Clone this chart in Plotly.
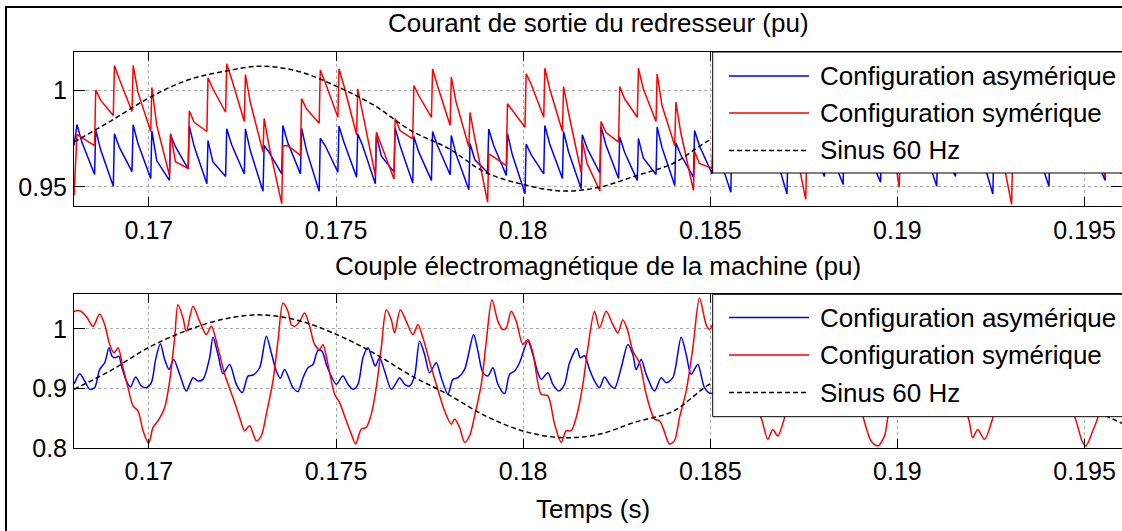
import plotly.graph_objects as go

# ---------------------------------------------------------------- data
# Top panel: rectifier output current, sampled at each commutation
# (peak, knee of the decay, bottom just before the next rise).
TOP_T = [
    0.16800,
    0.16808, 0.16821, 0.16855,  0.16858, 0.16871, 0.16905,  0.16908, 0.16921, 0.16955,
    0.16958, 0.16971, 0.17005,  0.17008, 0.17021, 0.17055,  0.17058, 0.17071, 0.17105,
    0.17108, 0.17121, 0.17155,  0.17158, 0.17171, 0.17205,  0.17208, 0.17221, 0.17255,
    0.17258, 0.17271, 0.17305,  0.17308, 0.17321, 0.17355,  0.17358, 0.17371, 0.17405,
    0.17408, 0.17421, 0.17455,  0.17458, 0.17471, 0.17505,  0.17508, 0.17521, 0.17555,
    0.17558, 0.17571, 0.17605,  0.17608, 0.17621, 0.17655,  0.17658, 0.17671, 0.17705,
    0.17708, 0.17721, 0.17755,  0.17758, 0.17771, 0.17805,  0.17808, 0.17821, 0.17855,
    0.17858, 0.17871, 0.17905,  0.17908, 0.17921, 0.17955,  0.17958, 0.17971, 0.18005,
    0.18008, 0.18021, 0.18055,  0.18058, 0.18071, 0.18105,  0.18108, 0.18121, 0.18155,
    0.18158, 0.18171, 0.18205,  0.18208, 0.18221, 0.18255,  0.18258, 0.18271, 0.18305,
    0.18308, 0.18321, 0.18355,  0.18358, 0.18371, 0.18405,  0.18408, 0.18421, 0.18455,
    0.18458, 0.18471, 0.18505,  0.18508, 0.18521, 0.18555,  0.18558, 0.18571, 0.18605,
    0.18608, 0.18621, 0.18655,  0.18658, 0.18671, 0.18705,  0.18708, 0.18721, 0.18755,
    0.18758, 0.18771, 0.18805,  0.18808, 0.18821, 0.18855,  0.18858, 0.18871, 0.18905,
    0.18908, 0.18921, 0.18955,  0.18958, 0.18971, 0.19005,  0.19008, 0.19021, 0.19055,
    0.19058, 0.19071, 0.19105,  0.19108, 0.19121, 0.19155,  0.19158, 0.19171, 0.19205,
    0.19208, 0.19221, 0.19255,  0.19258, 0.19271, 0.19305,  0.19308, 0.19321, 0.19355,
    0.19358, 0.19371, 0.19405,  0.19408, 0.19421, 0.19455,  0.19458, 0.19471, 0.19505,
    0.19508, 0.19521, 0.19555,  0.19558, 0.19571, 0.19605,
]

TOP_ASYM = [
    0.9714,
    0.9823, 0.9732, 0.9564,  0.9796, 0.9693, 0.9502,  0.9775, 0.9706, 0.9579,
    0.9822, 0.9724, 0.9543,  0.9790, 0.9636, 0.9533,  0.9770, 0.9708, 0.9593,
    0.9815, 0.9710, 0.9516,  0.9740, 0.9630, 0.9553,  0.9801, 0.9719, 0.9567,
    0.9801, 0.9688, 0.9477,  0.9714, 0.9680, 0.9567,  0.9818, 0.9730, 0.9567,
    0.9804, 0.9690, 0.9477,  0.9752, 0.9714, 0.9576,  0.9815, 0.9732, 0.9550,
    0.9775, 0.9714, 0.9516,  0.9766, 0.9660, 0.9576,  0.9805, 0.9714, 0.9519,
    0.9761, 0.9681, 0.9533,  0.9787, 0.9714, 0.9562,  0.9766, 0.9667, 0.9484,
    0.9725, 0.9640, 0.9574,  0.9800, 0.9716, 0.9559,  0.9777, 0.9667, 0.9464,
    0.9722, 0.9668, 0.9567,  0.9818, 0.9722, 0.9543,  0.9787, 0.9683, 0.9490,
    0.9770, 0.9700, 0.9571,  0.9813, 0.9718, 0.9543,  0.9758, 0.9679, 0.9533,
    0.9751, 0.9650, 0.9564,  0.9810, 0.9704, 0.9507,  0.9728, 0.9666, 0.9550,
    0.9792, 0.9713, 0.9567,  0.9780, 0.9672, 0.9472,  0.9800, 0.9723, 0.9580,
    0.9760, 0.9697, 0.9580,  0.9810, 0.9688, 0.9462,  0.9740, 0.9688, 0.9590,
    0.9800, 0.9714, 0.9553,  0.9770, 0.9680, 0.9512,  0.9810, 0.9730, 0.9580,
    0.9760, 0.9677, 0.9524,  0.9790, 0.9716, 0.9580,  0.9730, 0.9681, 0.9590,
    0.9815, 0.9705, 0.9502,  0.9770, 0.9694, 0.9553,  0.9800, 0.9723, 0.9580,
    0.9810, 0.9688, 0.9462,  0.9740, 0.9688, 0.9590,  0.9790, 0.9717, 0.9580,
    0.9800, 0.9696, 0.9502,  0.9760, 0.9698, 0.9580,  0.9810, 0.9728, 0.9575,
    0.9770, 0.9687, 0.9533,  0.9800, 0.9719, 0.9570,
]

TOP_SYM = [
    0.9455,
    0.9772, 0.9755, 0.9714,  1.0003, 0.9950, 0.9870,  1.0130, 1.0060, 0.9891,
    1.0130, 0.9990, 0.9787,  1.0016, 0.9820, 0.9559,  0.9777, 0.9630, 0.9595,
    0.9894, 0.9835, 0.9787,  1.0066, 1.0009, 0.9887,  1.0139, 1.0061, 0.9839,
    1.0083, 0.9939, 0.9680,  0.9855, 0.9714, 0.9412,  0.9712, 0.9714, 0.9663,
    0.9958, 0.9905, 0.9830,  1.0106, 1.0043, 0.9861,  1.0113, 1.0026, 0.9770,
    1.0008, 0.9887, 0.9559,  0.9783, 0.9714, 0.9540,  0.9855, 0.9792, 0.9749,
    1.0026, 0.9974, 0.9861,  1.0112, 1.0026, 0.9818,  1.0069, 0.9939, 0.9706,
    0.9886, 0.9750, 0.9420,  0.9671, 0.9655, 0.9610,  0.9931, 0.9896, 0.9809,
    1.0087, 1.0035, 0.9861,  1.0116, 1.0009, 0.9787,  1.0020, 0.9887, 0.9574,
    0.9740, 0.9620, 0.9478,  0.9839, 0.9783, 0.9732,  1.0021, 0.9957, 0.9861,
    1.0116, 1.0009, 0.9839,  1.0087, 0.9922, 0.9714,  0.9939, 0.9783, 0.9481,
    0.9683, 0.9621, 0.9595,  0.9850, 0.9790, 0.9750,  1.0030, 0.9960, 0.9860,
    1.0120, 1.0030, 0.9830,  1.0080, 0.9940, 0.9700,  0.9920, 0.9760, 0.9434,
    0.9690, 0.9630, 0.9600,  0.9880, 0.9830, 0.9780,  1.0040, 0.9980, 0.9860,
    1.0120, 1.0020, 0.9820,  1.0060, 0.9900, 0.9498,  0.9750, 0.9660, 0.9620,
    0.9900, 0.9840, 0.9760,  1.0060, 0.9990, 0.9870,  1.0130, 1.0030, 0.9820,
    1.0070, 0.9930, 0.9700,  0.9900, 0.9750, 0.9408,  0.9680, 0.9620, 0.9610,
    0.9870, 0.9820, 0.9770,  1.0040, 0.9980, 0.9860,  1.0120, 1.0020, 0.9820,
    1.0070, 0.9920, 0.9550,  0.9720, 0.9620, 0.9570,
]

# 60 Hz reference, sampled every millisecond
SINE_T = [0.168, 0.169, 0.170, 0.171, 0.172, 0.173, 0.174, 0.175, 0.176, 0.177,
          0.178, 0.179, 0.180, 0.181, 0.182, 0.183, 0.184, 0.185, 0.186, 0.187,
          0.188, 0.189, 0.190, 0.191, 0.192, 0.193, 0.194, 0.195, 0.196]
TOP_SINE = [0.9732, 0.9844, 0.9961, 1.0052, 1.0099, 1.0126, 1.0099, 1.0023, 0.9925, 0.9792,
            0.9699, 0.9574, 0.9512, 0.9478, 0.9496, 0.9556, 0.9621, 0.9745, 0.9830, 0.9950,
            1.0050, 1.0110, 1.0125, 1.0080, 0.9990, 0.9880, 0.9770, 0.9660, 0.9570]
BOT_SINE = [0.899, 0.931, 0.969, 0.997, 1.0165, 1.0235, 1.014, 0.991, 0.960, 0.922,
            0.890, 0.854, 0.829, 0.818, 0.823, 0.844, 0.862, 0.908, 0.935, 0.970,
            1.000, 1.020, 1.022, 1.010, 0.985, 0.950, 0.910, 0.872, 0.842]

# Bottom panel: electromagnetic torque
BOT_ASYM_T = [
    0.168000, 0.168019, 0.168152, 0.168286, 0.168419, 0.168553, 0.168686, 0.168820,
    0.168936, 0.169016, 0.169105, 0.169194, 0.169283, 0.169399, 0.169505, 0.169648,
    0.169799, 0.169933, 0.170066, 0.170182, 0.170307, 0.170422, 0.170538, 0.170663,
    0.170823, 0.171001, 0.171179, 0.171313, 0.171446, 0.171624, 0.171713, 0.171847,
    0.171980, 0.172158, 0.172337, 0.172497, 0.172648, 0.172782, 0.172960, 0.173138,
    0.173271, 0.173405, 0.173512, 0.173627, 0.173851, 0.173984, 0.174118, 0.174251,
    0.174385, 0.174518, 0.174625, 0.174741, 0.174874, 0.175008, 0.175186, 0.175320,
    0.175453, 0.175587, 0.175720, 0.175854, 0.175961, 0.176050, 0.176165, 0.176299,
    0.176477, 0.176611, 0.176700, 0.176833, 0.176967, 0.177100, 0.177234, 0.177367,
    0.177501, 0.177679, 0.177812, 0.177990, 0.178124, 0.178258, 0.178436, 0.178676,
    0.178792, 0.178925, 0.179059, 0.179192, 0.179326, 0.179504, 0.179637, 0.179771,
    0.179904, 0.180127, 0.180260, 0.180394, 0.180483, 0.180661, 0.180794, 0.180955,
    0.181106, 0.181240, 0.181435, 0.181525, 0.181640, 0.181774, 0.181907, 0.182041,
    0.182174, 0.182308, 0.182442, 0.182620, 0.182798, 0.182931, 0.183020, 0.183154,
    0.183287, 0.183510, 0.183688, 0.183822, 0.184000, 0.184222, 0.184356, 0.184489,
    0.184667, 0.184845, 0.185023, 0.185250, 0.185450, 0.185600, 0.185750, 0.185900,
    0.186050, 0.186300, 0.186450, 0.186600, 0.186850, 0.187000, 0.187150, 0.187300,
    0.187500, 0.187700, 0.187900, 0.188150, 0.188400, 0.188550, 0.188700, 0.188900,
    0.189100, 0.189300, 0.189500, 0.189800, 0.189950, 0.190100, 0.190300, 0.190500,
    0.190700, 0.190900, 0.191200, 0.191350, 0.191500, 0.191700, 0.191900, 0.192100,
    0.192400, 0.192600, 0.192750, 0.192900, 0.193100, 0.193300, 0.193500, 0.193700,
    0.194000, 0.194150, 0.194300, 0.194500, 0.194700, 0.194900, 0.195100, 0.195400,
    0.195550, 0.195700, 0.195900, 0.196100,
]
BOT_ASYM = [
    0.9080, 0.9100, 0.9250, 0.9127, 0.8989, 0.9017, 0.9322, 0.9433,
    0.9683, 0.9544, 0.9517, 0.9544, 0.9350, 0.9128, 0.9027, 0.9194,
    0.9044, 0.9016, 0.9100, 0.9489, 0.9750, 0.9489, 0.9322, 0.9489,
    0.9239, 0.8961, 0.9183, 0.9128, 0.9155, 0.9517, 0.9860, 0.9572,
    0.9250, 0.9405, 0.9072, 0.8933, 0.9210, 0.9228, 0.9350, 0.9877,
    0.9600, 0.9294, 0.9172, 0.9322, 0.9016, 0.8950, 0.9183, 0.9350,
    0.9405, 0.9639, 0.9628, 0.9405, 0.9210, 0.9072, 0.9210, 0.9072,
    0.8989, 0.9072, 0.9517, 0.9683, 0.9517, 0.9377, 0.9517, 0.9294,
    0.8989, 0.9100, 0.9183, 0.9072, 0.9044, 0.9217, 0.9794, 0.9572,
    0.9267, 0.9433, 0.9183, 0.8905, 0.9155, 0.9183, 0.9322, 0.9905,
    0.9628, 0.9267, 0.9210, 0.9350, 0.9072, 0.8917, 0.9239, 0.9294,
    0.9433, 0.9794, 0.9572, 0.9267, 0.9155, 0.9267, 0.9072, 0.8961,
    0.9072, 0.9433, 0.9672, 0.9517, 0.9550, 0.9322, 0.9128, 0.9017,
    0.9194, 0.9072, 0.9006, 0.9350, 0.9739, 0.9572, 0.9322, 0.9489,
    0.9239, 0.8961, 0.9183, 0.9100, 0.9183, 0.9861, 0.9572, 0.9239,
    0.9405, 0.9017, 0.8917, 0.9050, 0.9350, 0.9750, 0.9550, 0.9250,
    0.9400, 0.8980, 0.9180, 0.9120, 0.9500, 0.9700, 0.9520, 0.9300,
    0.9050, 0.9200, 0.9000, 0.9300, 0.9850, 0.9550, 0.9250, 0.9420,
    0.8950, 0.9150, 0.9100, 0.9800, 0.9550, 0.9250, 0.9400, 0.9000,
    0.9180, 0.9050, 0.9680, 0.9520, 0.9300, 0.9050, 0.9200, 0.9000,
    0.9400, 0.9750, 0.9550, 0.9250, 0.9400, 0.8950, 0.9150, 0.9100,
    0.9850, 0.9550, 0.9250, 0.9400, 0.8950, 0.9180, 0.9050, 0.9700,
    0.9520, 0.9300, 0.9050, 0.9150,
]

BOT_SYM_T = [
    0.168000, 0.168019, 0.168152, 0.168330, 0.168508, 0.168686, 0.168820, 0.168953,
    0.169069, 0.169176, 0.169309, 0.169443, 0.169577, 0.169710, 0.169844, 0.169995,
    0.170111, 0.170244, 0.170422, 0.170556, 0.170689, 0.170778, 0.170912, 0.171001,
    0.171179, 0.171357, 0.171535, 0.171669, 0.171847, 0.172025, 0.172247, 0.172426,
    0.172559, 0.172693, 0.172871, 0.173004, 0.173138, 0.173316, 0.173449, 0.173583,
    0.173717, 0.173806, 0.173895, 0.174029, 0.174162, 0.174296, 0.174429, 0.174563,
    0.174652, 0.174785, 0.174963, 0.175097, 0.175275, 0.175409, 0.175524, 0.175676,
    0.175809, 0.175943, 0.176076, 0.176210, 0.176343, 0.176477, 0.176566, 0.176717,
    0.176878, 0.177056, 0.177189, 0.177323, 0.177545, 0.177679, 0.177901, 0.178079,
    0.178169, 0.178302, 0.178436, 0.178570, 0.178703, 0.178881, 0.179015, 0.179166,
    0.179326, 0.179459, 0.179548, 0.179682, 0.179815, 0.179993, 0.180127, 0.180260,
    0.180483, 0.180661, 0.180839, 0.181017, 0.181151, 0.181284, 0.181418, 0.181596,
    0.181729, 0.181907, 0.182041, 0.182219, 0.182397, 0.182531, 0.182664, 0.182798,
    0.182931, 0.183109, 0.183287, 0.183510, 0.183643, 0.183732, 0.183911, 0.184044,
    0.184178, 0.184356, 0.184534, 0.184712, 0.184889, 0.184979, 0.185150, 0.185300,
    0.185450, 0.185700, 0.186000, 0.186250, 0.186359, 0.186537, 0.186670, 0.186804,
    0.186982, 0.187100, 0.187300, 0.187500, 0.187650, 0.187800, 0.187950, 0.188100,
    0.188300, 0.188450, 0.188600, 0.188800, 0.189074, 0.189297, 0.189475, 0.189653,
    0.189742, 0.189900, 0.190100, 0.190250, 0.190400, 0.190600, 0.190800, 0.190950,
    0.191100, 0.191300, 0.191600, 0.191879, 0.192012, 0.192146, 0.192324, 0.192547,
    0.192700, 0.192900, 0.193050, 0.193200, 0.193350, 0.193500, 0.193700, 0.193850,
    0.194000, 0.194300, 0.194728, 0.194950, 0.195039, 0.195217, 0.195350, 0.195500,
    0.195700, 0.195900, 0.196100,
]
BOT_SYM = [
    1.0280, 1.0294, 1.0305, 1.0210, 1.0044, 1.0250, 1.0072, 0.9739,
    0.9600, 0.9683, 0.9350, 0.9017, 0.8710, 0.8628, 0.8294, 0.8083,
    0.8350, 0.8460, 0.8683, 0.9128, 0.9850, 1.0405, 1.0183, 0.9960,
    1.0378, 1.0127, 0.9906, 1.0044, 0.9683, 0.9239, 0.8850, 0.8516,
    0.8294, 0.8378, 0.8128, 0.8210, 0.8572, 0.9128, 0.9794, 1.0433,
    1.0294, 1.0072, 1.0044, 1.0127, 1.0267, 1.0044, 0.9739, 0.9655,
    0.9739, 0.9406, 0.8905, 0.8766, 0.8460, 0.8239, 0.8072, 0.8322,
    0.8350, 0.8572, 0.9017, 0.9683, 1.0322, 1.0155, 0.9933, 1.0322,
    1.0127, 0.9905, 1.0072, 0.9850, 0.9350, 0.9072, 0.8628, 0.8405,
    0.8489, 0.8350, 0.8100, 0.8211, 0.8544, 0.9072, 0.9794, 1.0489,
    1.0127, 0.9989, 1.0017, 1.0294, 1.0127, 0.9739, 0.9822, 0.9600,
    0.8905, 0.8878, 0.8405, 0.8100, 0.8294, 0.8294, 0.8517, 0.9072,
    0.9683, 1.0294, 1.0017, 1.0294, 1.0072, 0.9933, 1.0155, 0.9961,
    0.9628, 0.9433, 0.8905, 0.8489, 0.8461, 0.8350, 0.8072, 0.8128,
    0.8517, 0.8961, 0.9683, 1.0516, 1.0072, 0.9989, 1.0150, 0.9900,
    0.9750, 0.9300, 0.8800, 0.8600, 0.8510, 0.8150, 0.8317, 0.8206,
    0.8510, 0.8800, 0.9600, 1.0350, 1.0120, 0.9950, 1.0330, 1.0100,
    0.9900, 1.0030, 0.9700, 0.9100, 0.8540, 0.8122, 0.8039, 0.8206,
    0.8510, 0.9000, 0.9750, 1.0450, 1.0100, 1.0250, 1.0000, 0.9700,
    0.9550, 0.9200, 0.8750, 0.8540, 0.8178, 0.8317, 0.8150, 0.8510,
    0.9000, 0.9700, 1.0300, 1.0000, 1.0300, 1.0050, 0.9900, 1.0050,
    0.9650, 0.9000, 0.8540, 0.8094, 0.8039, 0.8289, 0.8510, 0.9000,
    0.9700, 1.0450, 1.0100,
]

X_TICKS = [0.17, 0.175, 0.18, 0.185, 0.19, 0.195]
X_TICK_TEXT = ["0.17", "0.175", "0.18", "0.185", "0.19", "0.195"]
TOP_Y_TICKS = [0.95, 1.0]
TOP_Y_TEXT = ["0.95", "1"]
BOT_Y_TICKS = [0.8, 0.9, 1.0]
BOT_Y_TEXT = ["0.8", "0.9", "1"]
SERIES = ["Configuration asymérique", "Configuration symérique", "Sinus 60 Hz"]
TITLE_TOP = "Courant de sortie du redresseur (pu)"
TITLE_BOT = "Couple électromagnétique de la machine (pu)"
X_LABEL = "Temps (s)"

# ---------------------------------------------------------------- layout
W, H = 1122, 531
FONT = "Arial, Liberation Sans, Helvetica, sans-serif"
BLUE, RED, BLACK = "#0000ff", "#ff0000", "#000000"
DASH = "5px,3px"
LW = 1.5


def fx(p):
    return p / W


def fy(p):
    return 1 - p / H


fig = go.Figure()

# top panel
fig.add_trace(go.Scatter(x=TOP_T, y=TOP_ASYM, name=SERIES[0], mode="lines",
                         line=dict(color=BLUE, width=LW), xaxis="x", yaxis="y"))
fig.add_trace(go.Scatter(x=TOP_T, y=TOP_SYM, name=SERIES[1], mode="lines",
                         line=dict(color=RED, width=LW), xaxis="x", yaxis="y"))
fig.add_trace(go.Scatter(x=SINE_T, y=TOP_SINE, name=SERIES[2], mode="lines",
                         line=dict(color=BLACK, width=LW, dash=DASH, shape="spline"),
                         xaxis="x", yaxis="y"))
# bottom panel
fig.add_trace(go.Scatter(x=BOT_ASYM_T, y=BOT_ASYM, name=SERIES[0], mode="lines",
                         line=dict(color=BLUE, width=LW, shape="spline", smoothing=0.8),
                         xaxis="x2", yaxis="y2"))
fig.add_trace(go.Scatter(x=BOT_SYM_T, y=BOT_SYM, name=SERIES[1], mode="lines",
                         line=dict(color=RED, width=LW, shape="spline", smoothing=0.8),
                         xaxis="x2", yaxis="y2"))
fig.add_trace(go.Scatter(x=SINE_T, y=BOT_SINE, name=SERIES[2], mode="lines",
                         line=dict(color=BLACK, width=LW, dash=DASH, shape="spline"),
                         xaxis="x2", yaxis="y2"))

tick_font = dict(family=FONT, size=25, color="black")
axis_common = dict(showline=True, linecolor="black", linewidth=1, mirror="ticks",
                   ticks="inside", tickcolor="black", tickwidth=1,
                   showgrid=True, gridcolor="#aaaaaa", griddash="dot", gridwidth=1,
                   zeroline=False, tickfont=tick_font, fixedrange=True)

x_dom = [fx(74), 1.0]
x_range = [0.168, 0.196]
fig.update_layout(
    xaxis=dict(axis_common, domain=x_dom, range=x_range, anchor="y",
               tickvals=X_TICKS, ticktext=X_TICK_TEXT, ticklen=9, ticklabelstandoff=2),
    yaxis=dict(axis_common, domain=[fy(206), fy(52)], range=[0.94, 1.02], anchor="x",
               tickvals=TOP_Y_TICKS, ticktext=TOP_Y_TEXT, ticklen=11, ticklabelstandoff=1),
    xaxis2=dict(axis_common, domain=x_dom, range=x_range, anchor="y2",
                tickvals=X_TICKS, ticktext=X_TICK_TEXT, ticklen=9, ticklabelstandoff=1),
    yaxis2=dict(axis_common, domain=[fy(448.3), fy(294.3)], range=[0.8, 1.058], anchor="x2",
                tickvals=BOT_Y_TICKS, ticktext=BOT_Y_TEXT, ticklen=11, ticklabelstandoff=1),
    width=W, height=H, margin=dict(l=0, r=0, t=0, b=0, autoexpand=False),
    paper_bgcolor="white", plot_bgcolor="white", showlegend=False,
    font=dict(family=FONT, color="black"),
)

shapes = []
annotations = []


def hline(x0, x1, y, width=1):
    shapes.append(dict(type="line", xref="paper", yref="paper", x0=fx(x0), x1=fx(x1),
                       y0=fy(y), y1=fy(y), line=dict(color="black", width=width),
                       layer="above"))


def vline(x, y0, y1, width=1):
    shapes.append(dict(type="line", xref="paper", yref="paper", x0=fx(x), x1=fx(x),
                       y0=fy(y0), y1=fy(y1), line=dict(color="black", width=width),
                       layer="above"))


# outer figure frame (left and top edges fall inside the page)
vline(6, 6, H, width=2)
hline(6, W, 7, width=2)


def add_legend(top, bottom, rows):
    shapes.append(dict(type="rect", xref="paper", yref="paper", x0=fx(712.7), x1=1.0,
                       y0=fy(bottom), y1=fy(top), line=dict(width=0),
                       fillcolor="white", layer="above"))
    hline(712.7, W, top)
    hline(712.7, W, bottom)
    vline(712.7, top, bottom)
    styles = [dict(color=BLUE, width=LW), dict(color=RED, width=LW),
              dict(color=BLACK, width=LW, dash=DASH)]
    for name, style, row in zip(SERIES, styles, rows):
        shapes.append(dict(type="line", xref="paper", yref="paper", x0=fx(729), x1=fx(809),
                           y0=fy(row), y1=fy(row), line=style, layer="above"))
        annotations.append(dict(text=name, xref="paper", yref="paper", x=fx(818), y=fy(row),
                                xanchor="left", yanchor="middle", showarrow=False,
                                font=dict(family=FONT, size=26, color="black")))


add_legend(52, 173, [76, 113, 150.5])
add_legend(294.3, 416.7, [317.5, 355, 392.5])

for text, cx, cy in [(TITLE_TOP, 598, 23), (TITLE_BOT, 598, 266), (X_LABEL, 593, 509)]:
    annotations.append(dict(text=text, xref="paper", yref="paper", x=fx(cx), y=fy(cy),
                            xanchor="center", yanchor="middle", showarrow=False,
                            font=dict(family=FONT, size=26, color="black")))

fig.update_layout(shapes=shapes, annotations=annotations)

fig.write_html("out.html", config=dict(displayModeBar=False, staticPlot=True))
